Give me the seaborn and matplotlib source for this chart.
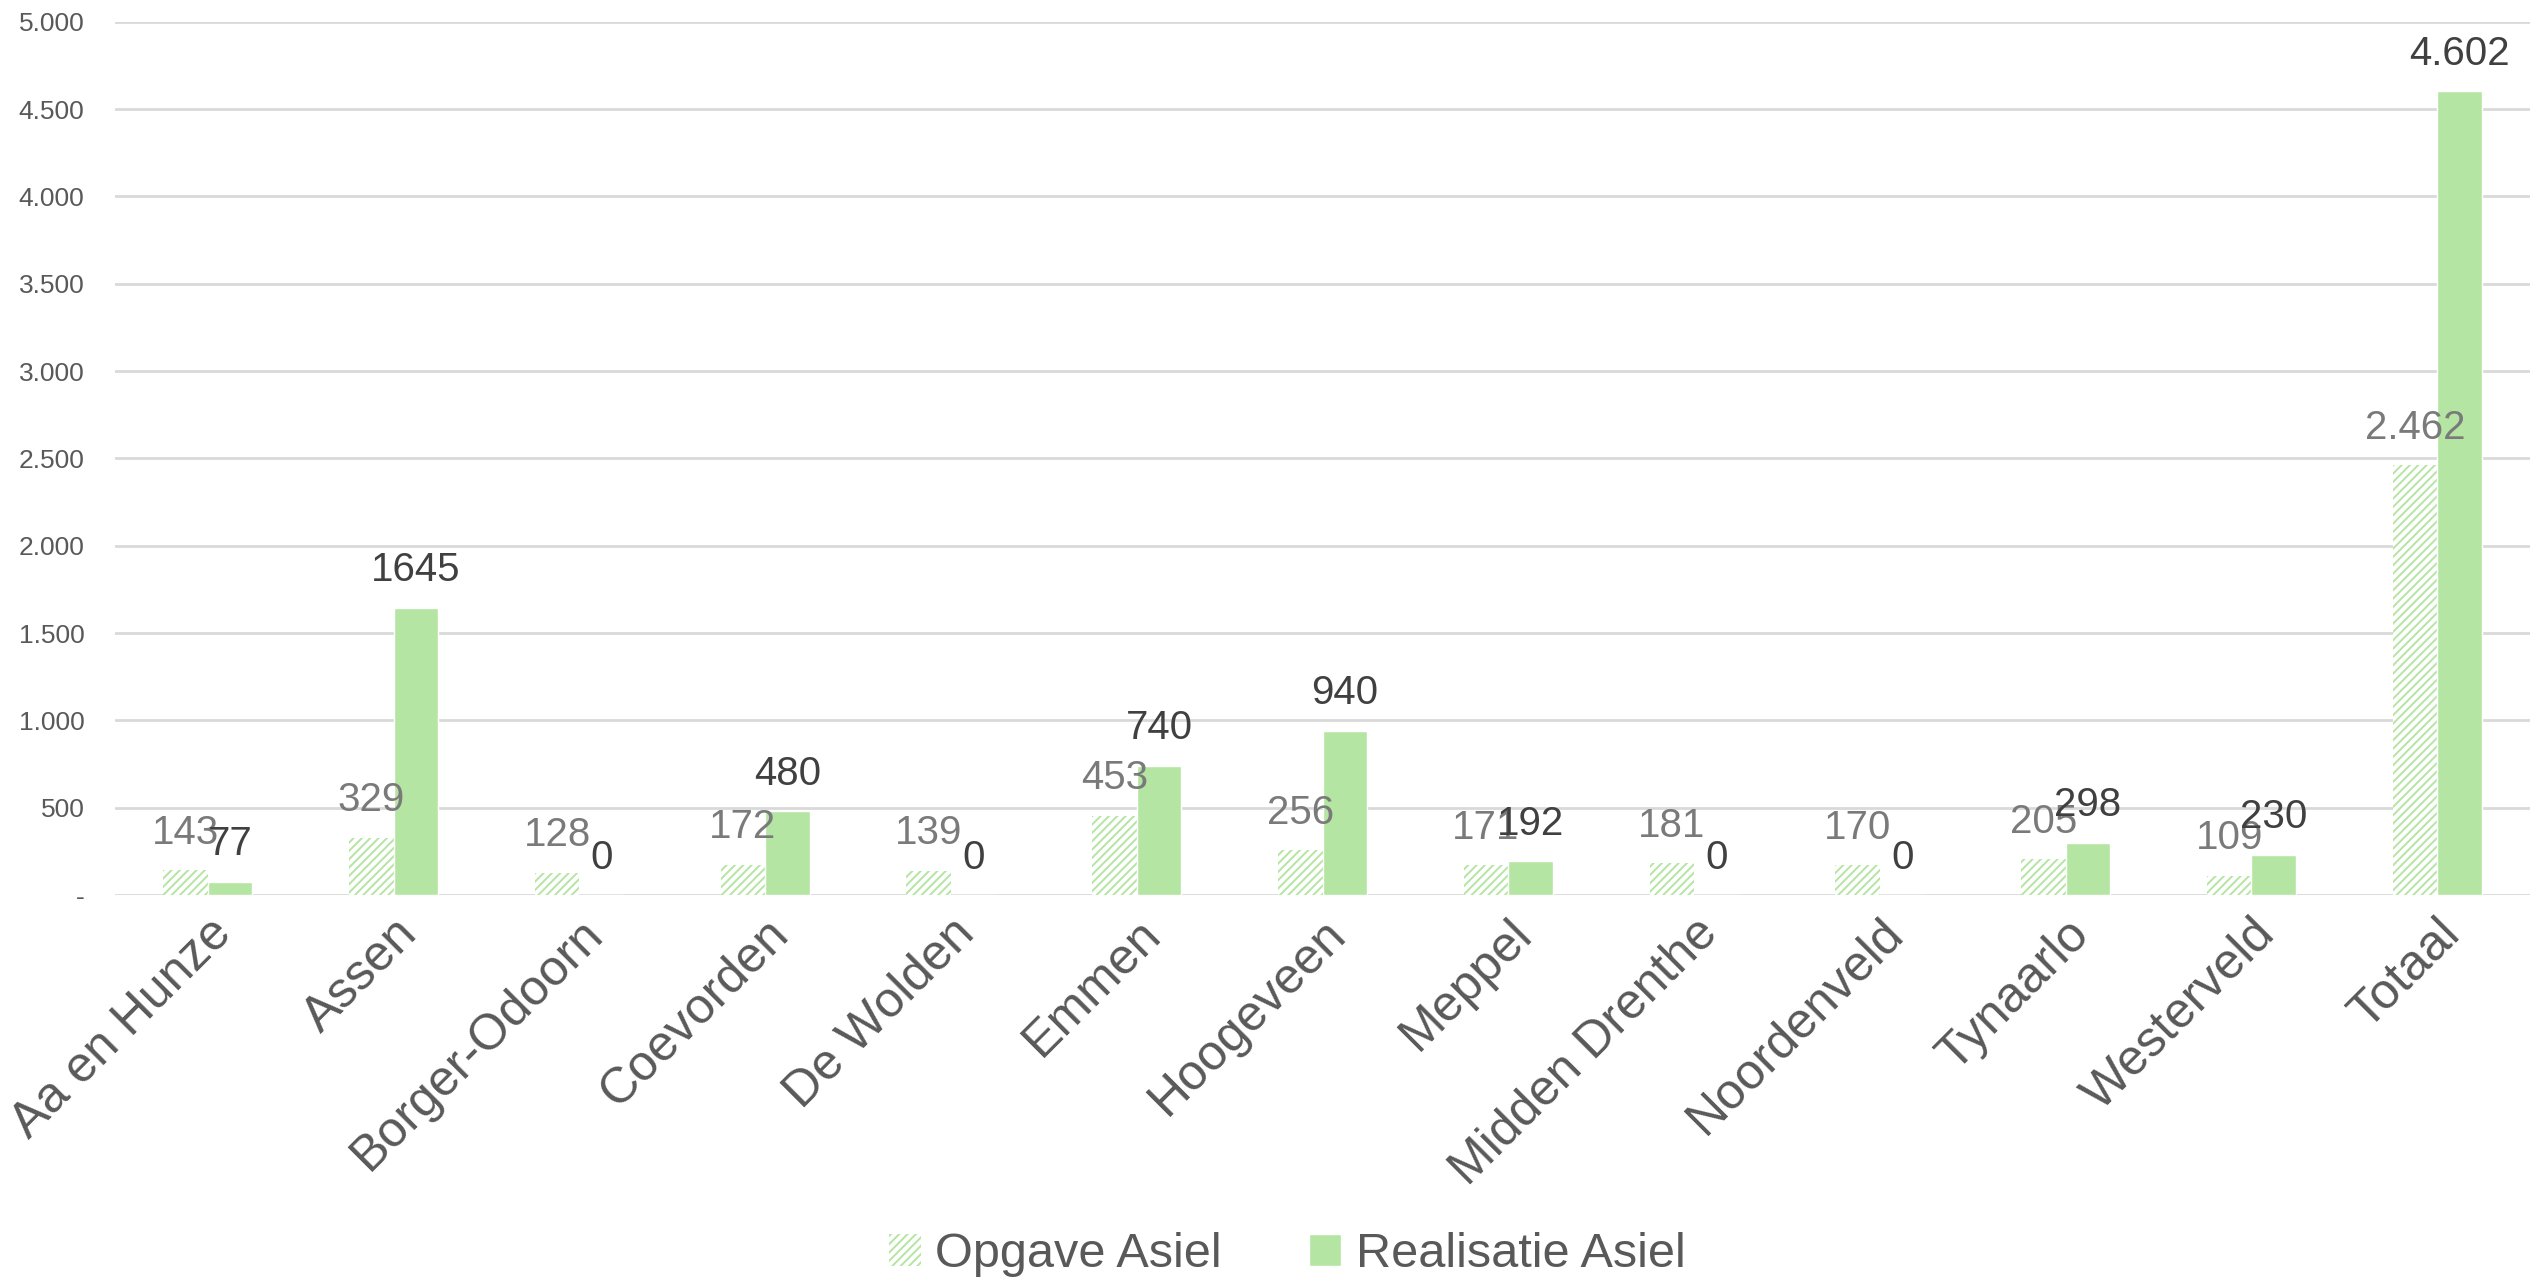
import pandas as pd
import matplotlib
matplotlib.use("Agg")
import matplotlib.pyplot as plt
from matplotlib.ticker import FuncFormatter
import seaborn as sns

# gemeenten in Drenthe
gemeenten = ["Aa en Hunze", "Assen", "Borger-Odoorn", "Coevorden", "De Wolden",
             "Emmen", "Hoogeveen", "Meppel", "Midden Drenthe", "Noordenveld",
             "Tynaarlo", "Westerveld", "Totaal"]
opgave = [143, 329, 128, 172, 139, 453, 256, 171, 181, 170, 205, 109, 2462]
realisatie = [77, 1645, 0, 480, 0, 740, 940, 192, 0, 0, 298, 230, 4602]
series = ["Opgave Asiel", "Realisatie Asiel"]

green = "#B5E5A2"
grid_grey = "#D9D9D9"
text_grey = "#595959"


def nl_fmt(v):
    return f"{v:,}".replace(",", ".")


if __name__ == "__main__":
    data = pd.DataFrame({
        "gemeente": gemeenten * 2,
        "aantal": opgave + realisatie,
        "type": [series[0]] * len(gemeenten) + [series[1]] * len(gemeenten),
    })

    sns.set_style("white")
    plt.rcParams["font.family"] = ["Liberation Sans", "DejaVu Sans"]
    plt.rcParams["hatch.linewidth"] = 1.4

    fig = plt.figure(figsize=(25.39, 12.83), dpi=100)
    ax = fig.add_axes([0.0453, 0.3024, 0.9512, 0.6806])

    sns.barplot(data=data, x="gemeente", y="aantal", hue="type",
                palette=[green, green], width=0.48, gap=0, saturation=1,
                legend=False, ax=ax)

    # opgave as hatched bars
    for p in ax.containers[0].patches:
        p.set_facecolor("white")
        p.set_edgecolor(green)
        p.set_hatch("////")
        p.set_linewidth(0)

    # data labels (overlapping like in the original)
    for i, p in enumerate(ax.containers[0].patches):
        txt = nl_fmt(opgave[i]) if gemeenten[i] == "Totaal" else str(opgave[i])
        ax.annotate(txt, (p.get_x() + p.get_width() / 2, p.get_height()),
                    xytext=(0, 27), textcoords="offset points", ha="center",
                    va="center", fontsize=29, color="#7A7A7A")
    for i, p in enumerate(ax.containers[1].patches):
        txt = nl_fmt(realisatie[i]) if gemeenten[i] == "Totaal" else str(realisatie[i])
        ax.annotate(txt, (p.get_x() + p.get_width() / 2, p.get_height()),
                    xytext=(0, 27), textcoords="offset points", ha="center",
                    va="center", fontsize=29, color="#404040")

    ax.set_ylim(0, 5000)
    ax.set_yticks(range(0, 5001, 500))
    ax.yaxis.set_major_formatter(FuncFormatter(lambda v, pos: "-" if v == 0 else nl_fmt(int(v))))
    ax.grid(axis="y", color=grid_grey, linewidth=2)
    ax.set_axisbelow(True)
    for s in ax.spines.values():
        s.set_visible(False)
    ax.tick_params(axis="both", length=0, colors=text_grey)
    ax.tick_params(axis="y", labelsize=19, pad=22)
    ax.tick_params(axis="x", labelsize=36, pad=11)
    plt.setp(ax.get_xticklabels(), rotation=45, ha="right", rotation_mode="anchor")
    ax.set_xlabel("")
    ax.set_ylabel("")

    handles = [ax.containers[0].patches[0], ax.containers[1].patches[0]]
    fig.legend(handles, series, loc="center", bbox_to_anchor=(0.507, 0.022),
               ncol=2, frameon=False, fontsize=35, labelcolor=text_grey,
               handlelength=0.65, handleheight=0.65, handletextpad=0.3,
               columnspacing=1.8)

    fig.savefig("out.png", dpi=100, facecolor="white")
